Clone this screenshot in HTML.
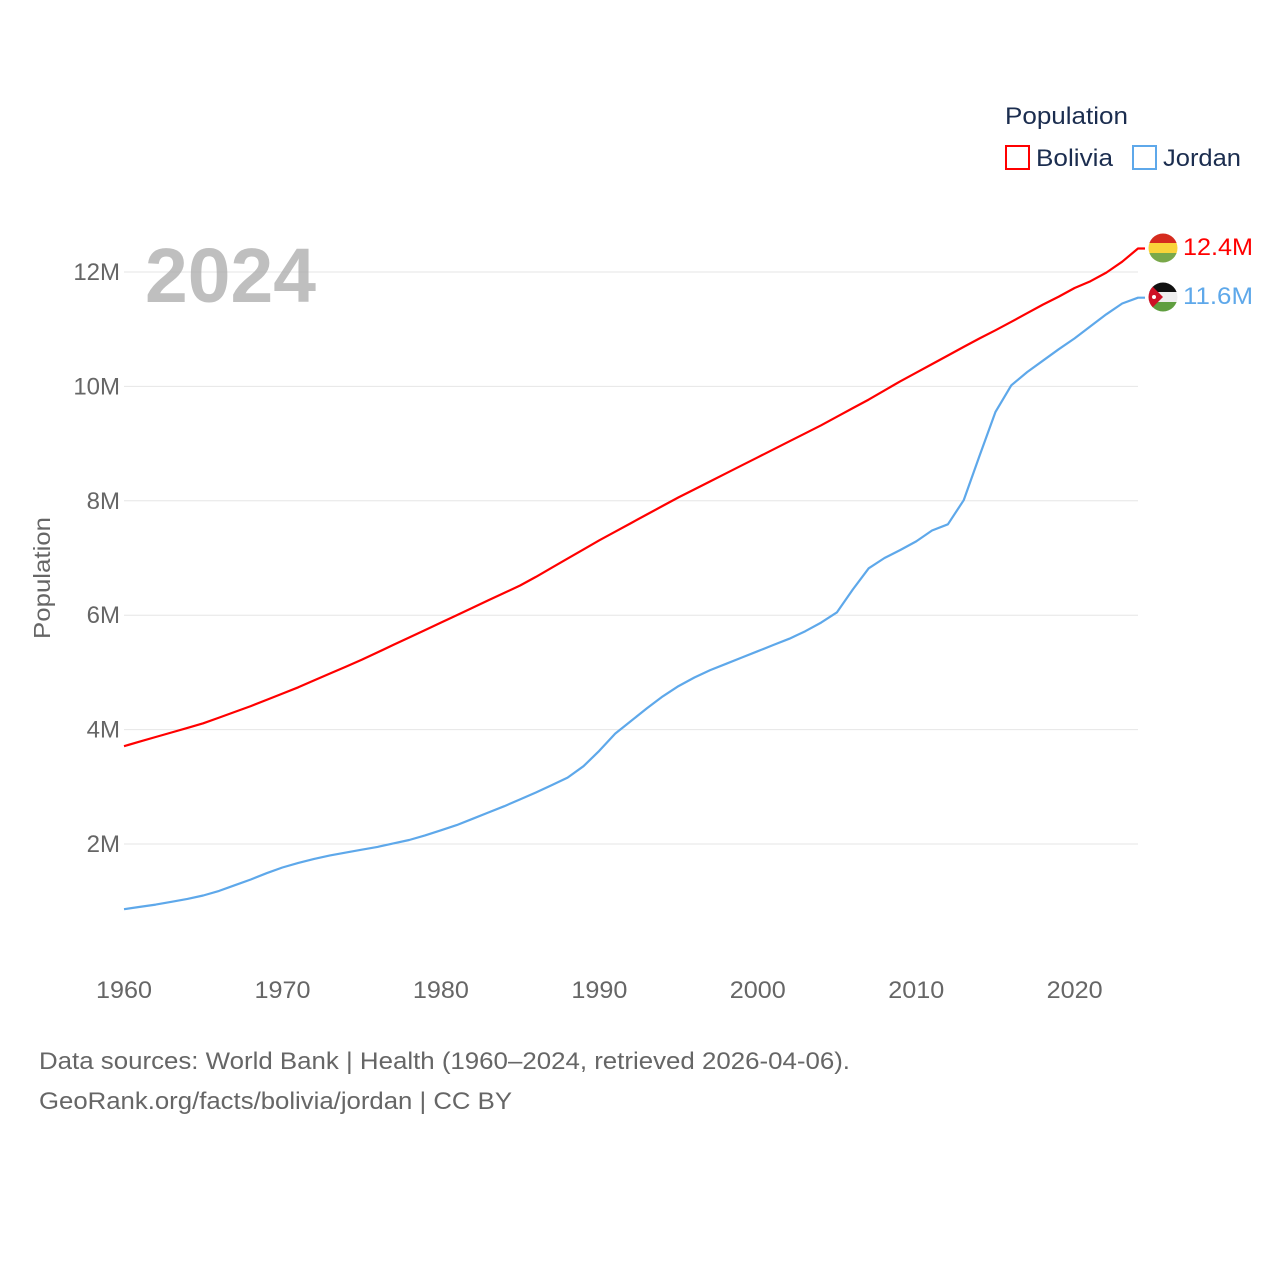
<!DOCTYPE html>
<html><head><meta charset="utf-8"><style>
body{margin:0;background:#fff;width:1280px;height:1280px;overflow:hidden;font-family:"Liberation Sans",sans-serif}
svg text{font-family:"Liberation Sans",sans-serif}
</style></head><body>
<svg id="chart" width="1280" height="1280" viewBox="0 0 1280 1280">
<g id="grid"></g>
<g id="yticks"></g>
<g id="xticks"></g>
<text x="145" y="302" font-size="77" font-weight="bold" fill="#aaa" fill-opacity="0.75" textLength="171" lengthAdjust="spacingAndGlyphs">2024</text>
<text transform="translate(50,578) rotate(-90)" text-anchor="middle" font-size="23" fill="#666" textLength="122" lengthAdjust="spacingAndGlyphs">Population</text>
<g id="series"></g>
<g>
<text x="1005" y="124" font-size="24" fill="#1b2d4f" textLength="123" lengthAdjust="spacingAndGlyphs">Population</text>
<g><rect x="1006" y="146" width="23" height="23" fill="none" stroke="#ff0000" stroke-width="2"/><text x="1036" y="166" font-size="24" fill="#1b2d4f" textLength="77" lengthAdjust="spacingAndGlyphs">Bolivia</text></g>
<g><rect x="1133" y="146" width="23" height="23" fill="none" stroke="#5ea8ea" stroke-width="2"/><text x="1163" y="166" font-size="24" fill="#1b2d4f" textLength="78" lengthAdjust="spacingAndGlyphs">Jordan</text></g>
</g>
<defs>
<clipPath id="c1"><circle cx="1163" cy="248" r="14.5"/></clipPath>
<clipPath id="c2"><circle cx="1163" cy="297" r="14.5"/></clipPath>
</defs>
<g clip-path="url(#c1)">
<rect x="1148" y="233" width="30" height="10" fill="#d52b1e"/><rect x="1148" y="243" width="30" height="10" fill="#f9d43a"/><rect x="1148" y="253" width="30" height="10" fill="#79a84a"/></g>
<g clip-path="url(#c2)">
<rect x="1148" y="282" width="30" height="10" fill="#111"/><rect x="1148" y="292" width="30" height="10" fill="#eee"/><rect x="1148" y="302" width="30" height="10" fill="#5f9e3f"/><polygon points="1148,282 1163,297 1148,312" fill="#ce1126"/><circle cx="1154" cy="297" r="2" fill="#fff"/></g>
<text x="1183" y="255" font-size="24" fill="#ff0000" textLength="70" lengthAdjust="spacingAndGlyphs">12.4M</text>
<text x="1183" y="304" font-size="24" fill="#5ea8ea" textLength="70" lengthAdjust="spacingAndGlyphs">11.6M</text>
<text x="39" y="1069" font-size="24" fill="#666" textLength="811" lengthAdjust="spacingAndGlyphs">Data sources: World Bank | Health (1960–2024, retrieved 2026-04-06).</text>
<text x="39" y="1109" font-size="24" fill="#666" textLength="473" lengthAdjust="spacingAndGlyphs">GeoRank.org/facts/bolivia/jordan | CC BY</text>
</svg>
<script>
const years=[];for(let y=1960;y<=2024;y++)years.push(y);
const bolivia=[3.71,3.79,3.87,3.95,4.03,4.11,4.21,4.31,4.41,4.52,
4.63,4.74,4.86,4.98,5.10,5.22,5.35,5.48,5.61,5.74,
5.87,6.00,6.13,6.26,6.39,6.52,6.67,6.83,6.99,7.15,
7.31,7.46,7.61,7.76,7.91,8.06,8.20,8.34,8.48,8.62,
8.76,8.90,9.04,9.18,9.32,9.47,9.62,9.77,9.93,10.09,
10.24,10.39,10.54,10.69,10.84,10.98,11.13,11.28,11.43,11.57,
11.72,11.84,11.99,12.18,12.41];
const jordan=[0.86,0.90,0.94,0.99,1.04,1.10,1.18,1.28,1.38,1.49,
1.59,1.67,1.74,1.80,1.85,1.90,1.95,2.01,2.07,2.15,
2.24,2.33,2.44,2.55,2.66,2.78,2.90,3.03,3.16,3.36,
3.63,3.93,4.15,4.37,4.58,4.76,4.91,5.04,5.15,5.26,
5.37,5.48,5.59,5.72,5.87,6.05,6.45,6.82,7.00,7.14,
7.29,7.48,7.59,8.01,8.79,9.55,10.02,10.25,10.45,10.65,
10.84,11.05,11.26,11.45,11.55];
const yTicks=[2,4,6,8,10,12];
const xTicks=[1960,1970,1980,1990,2000,2010,2020];
const X=y=>124+(y-1960)*(1138-124)/64;
const Y=v=>958.4-v*57.2;
const NS='http://www.w3.org/2000/svg';
function mk(t,a,p){const e=document.createElementNS(NS,t);for(const k in a)e.setAttribute(k,a[k]);p.appendChild(e);return e;}
const grid=document.getElementById('grid'),yt=document.getElementById('yticks'),xt=document.getElementById('xticks'),ser=document.getElementById('series');
yTicks.forEach(v=>{
 const l=mk('line',{x1:124,x2:1138,y1:Y(v),y2:Y(v),stroke:'#e6e6e6','stroke-width':1},grid);
 
 
 const t=mk('text',{x:120,y:Y(v)+8,'text-anchor':'end','font-size':24,fill:'#666'},yt);
 t.textContent=v+'M';
 
 
});
xTicks.forEach(v=>{
 const t=mk('text',{x:X(v),y:998,'text-anchor':'middle','font-size':24,fill:'#666',textLength:56,lengthAdjust:'spacingAndGlyphs'},xt);
 t.textContent=v;
 
 
});
function line(data,color,name){
 let d=data.map((v,i)=>(i?'L':'M')+X(years[i]).toFixed(1)+','+Y(v).toFixed(1)).join(' ');
 const last=data[data.length-1];
 d+=' L'+(X(years[years.length-1])+7)+','+Y(last).toFixed(1);
 const p=mk('path',{d:d,fill:'none',stroke:color,'stroke-width':2.2,'stroke-linejoin':'round'},ser);
 
 
}
line(jordan,'#5ea8ea','line-jordan');
line(bolivia,'#ff0000','line-bolivia');
</script>
</body></html>
